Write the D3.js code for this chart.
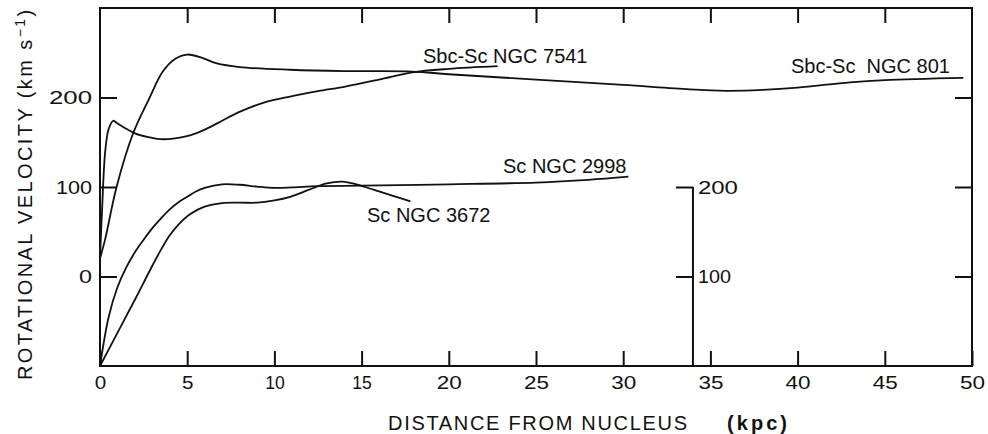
<!DOCTYPE html>
<meta charset="utf-8">
<style>
body { margin: 0; background: #fff; }
text { font-family: "Liberation Sans", Arial, sans-serif; fill: #111; }
.axis text { font-size: 19px; }
.axis line { stroke: #111; stroke-width: 2; }
.curve { fill: none; stroke: #111; stroke-width: 1.8; }
</style>
<svg width="988" height="434"></svg>
<script src="https://d3js.org/d3.v7.min.js"></script>
<script>

// rotation curves, [distance kpc, velocity km/s]
// Sbc-Sc galaxies are read on the left scale
var ngc801 = [[0,20],[0.3,42],[0.95,100],[1.9,160],[2.8,198],[3.6,229],[4.3,243],[5.0,248],[5.9,244],[6.7,238],[8.0,234],[10.9,231],[14,229.5],[17.9,229],[20,226],[25,220],[30,214],[33.8,209],[35.9,207.5],[38,208.5],[40,211],[43,217],[45,219.5],[49.5,222]];
var ngc7541 = [[0,20],[0.12,75],[0.3,140],[0.5,165],[0.76,174],[1.0,171],[1.33,167],[2.0,160],[2.7,156],[3.44,153.5],[4.2,154],[4.8,156],[5.5,160],[6.1,165],[7.0,174],[8.0,184],[9.35,194],[10.9,201],[12.5,207],[14,212],[16,220],[17.9,228],[20,232],[22.8,235]];
// Sc galaxies are read on the inset scale
var ngc2998 = [[0,0],[0.5,55],[1.0,88],[1.5,110],[2.0,127],[2.5,141],[3.0,154],[3.5,165],[4.0,175],[4.5,183],[5.0,189],[5.5,195],[6.0,199],[7.0,203],[8.0,202.5],[9.0,200.5],[10.0,199],[11.0,199.5],[12.5,201],[15,201.5],[20,203],[25,205],[28,208],[30.3,211.5]];
var ngc3672 = [[0,0],[1.0,37],[2.0,74],[3.0,112],[3.5,130],[4.0,146],[4.5,158],[5.2,170],[6.0,178],[7.0,182],[8.0,182.5],[9.0,182.5],[10.0,185],[10.9,189],[12.0,197],[13.0,204],[13.9,206],[14.5,204],[15.2,200],[16.0,195],[16.8,190],[17.8,184]];

var xTicks = [0,5,10,15,20,25,30,35,40,45,50];
var yTicks = [0,100,200];
var insetTicks = [100,200];
var insetAt = 34;   // kpc where the inset scale stands

// label anchors: [text, kpc, velocity, scale]
var labels = [
  ["Sbc-Sc NGC 7541", 18.52, 238.5, "up"],
  ["Sbc-Sc  NGC 801", 39.62, 227.4, "up"],
  ["Sc NGC 2998", 23.11, 215.6, "low"],
  ["Sc NGC 3672", 15.31, 160.9, "low"]
];

var svg = d3.select("svg");
var mLeft = 100, mRight = 972, mTop = 8, mBottom = 366;

var x = d3.scaleLinear().domain([0, 50]).range([mLeft, mRight]);
var yUp = d3.scaleLinear().domain([-100, 300]).range([mBottom, mTop]);
var yLow = d3.scaleLinear().domain([0, 400]).range([mBottom, mTop]);

// digits in the lettering are wide, "1" is just a stroke
function digitWidth(s, w1, w) {
  var t = 0;
  for (var i = 0; i < s.length; i++) t += (s[i] == "1" ? w1 : w) + (i ? 2 : 0);
  return t;
}

// bottom axis
svg.append("g").attr("class", "axis")
  .attr("transform", "translate(0," + mBottom + ")")
  .call(d3.axisBottom(x).tickValues(xTicks).tickSizeInner(-15).tickSizeOuter(0).tickPadding(10))
  .call(function(g) { g.select(".domain").remove(); })
  .selectAll("text")
  .attr("textLength", function(d) { return digitWidth(String(d), 6, 11.5); })
  .attr("lengthAdjust", "spacingAndGlyphs");

// top ticks
svg.append("g").attr("class", "axis")
  .attr("transform", "translate(0," + mTop + ")")
  .call(d3.axisTop(x).tickValues(xTicks.slice(1, -1)).tickSizeInner(-15).tickSizeOuter(0).tickFormat(""))
  .call(function(g) { g.select(".domain").remove(); });

// left axis
svg.append("g").attr("class", "axis")
  .attr("transform", "translate(" + mLeft + ",0)")
  .call(d3.axisLeft(yUp).tickValues(yTicks).tickSizeInner(-17).tickSizeOuter(0).tickPadding(8))
  .call(function(g) { g.select(".domain").remove(); })
  .selectAll("text")
  .attr("textLength", function(d) { return digitWidth(String(d), 6, 13); })
  .attr("lengthAdjust", "spacingAndGlyphs");

// right ticks
svg.append("g").attr("class", "axis")
  .attr("transform", "translate(" + mRight + ",0)")
  .call(d3.axisRight(yUp).tickValues(yTicks).tickSizeInner(-17).tickSizeOuter(0).tickFormat(""))
  .call(function(g) { g.select(".domain").remove(); });

// frame
svg.append("rect")
  .attr("x", mLeft).attr("y", mTop)
  .attr("width", mRight - mLeft).attr("height", mBottom - mTop)
  .attr("fill", "none").attr("stroke", "#111").attr("stroke-width", 2);

// inset scale for the Sc curves
var inset = svg.append("g").attr("class", "axis")
  .attr("transform", "translate(" + x(insetAt) + ",0)")
  .call(d3.axisLeft(yLow).tickValues(insetTicks).tickSizeInner(17).tickSizeOuter(0))
  .call(function(g) { g.select(".domain").remove(); });
inset.selectAll("text")
  .attr("x", 5).attr("text-anchor", "start")
  .attr("textLength", function(d) { return digitWidth(String(d), 6, 13) - 3; })
  .attr("lengthAdjust", "spacingAndGlyphs");
inset.append("line")
  .attr("x1", 0).attr("x2", 0)
  .attr("y1", yLow(0)).attr("y2", yLow(200));

// curves
var lineUp = d3.line()
  .x(function(d) { return x(d[0]); })
  .y(function(d) { return yUp(d[1]); })
  .curve(d3.curveCatmullRom.alpha(0.5));
var lineLow = d3.line()
  .x(function(d) { return x(d[0]); })
  .y(function(d) { return yLow(d[1]); })
  .curve(d3.curveCatmullRom.alpha(0.5));

svg.append("path").attr("class", "curve").attr("d", lineUp(ngc801));
svg.append("path").attr("class", "curve").attr("d", lineUp(ngc7541));
svg.append("path").attr("class", "curve").attr("d", lineLow(ngc2998));
svg.append("path").attr("class", "curve").attr("d", lineLow(ngc3672));

// curve labels
svg.selectAll(".lbl")
  .data(labels)
  .enter().append("text")
  .attr("class", "lbl")
  .attr("x", function(d) { return x(d[1]); })
  .attr("y", function(d) { return d[3] == "up" ? yUp(d[2]) : yLow(d[2]); })
  .style("font-size", "20px")
  .style("white-space", "pre")
  .text(function(d) { return d[0]; });

// axis titles
svg.append("text")
  .attr("x", 388).attr("y", 430)
  .style("font-size", "20px")
  .attr("textLength", 299).attr("lengthAdjust", "spacing")
  .text("DISTANCE FROM NUCLEUS");
svg.append("text")
  .attr("x", 727).attr("y", 430)
  .style("font-size", "20px").style("font-weight", "bold")
  .attr("textLength", 60).attr("lengthAdjust", "spacing")
  .text("(kpc)");

var yt = svg.append("text")
  .attr("transform", "translate(32,380) rotate(-90)")
  .style("font-size", "20px")
  .style("letter-spacing", "2.4px");
yt.append("tspan").text("ROTATIONAL  VELOCITY (km s");
yt.append("tspan").attr("dy", -7).style("font-size", "14px").text("\u22121");
yt.append("tspan").attr("dy", 7).text(")");

</script>
